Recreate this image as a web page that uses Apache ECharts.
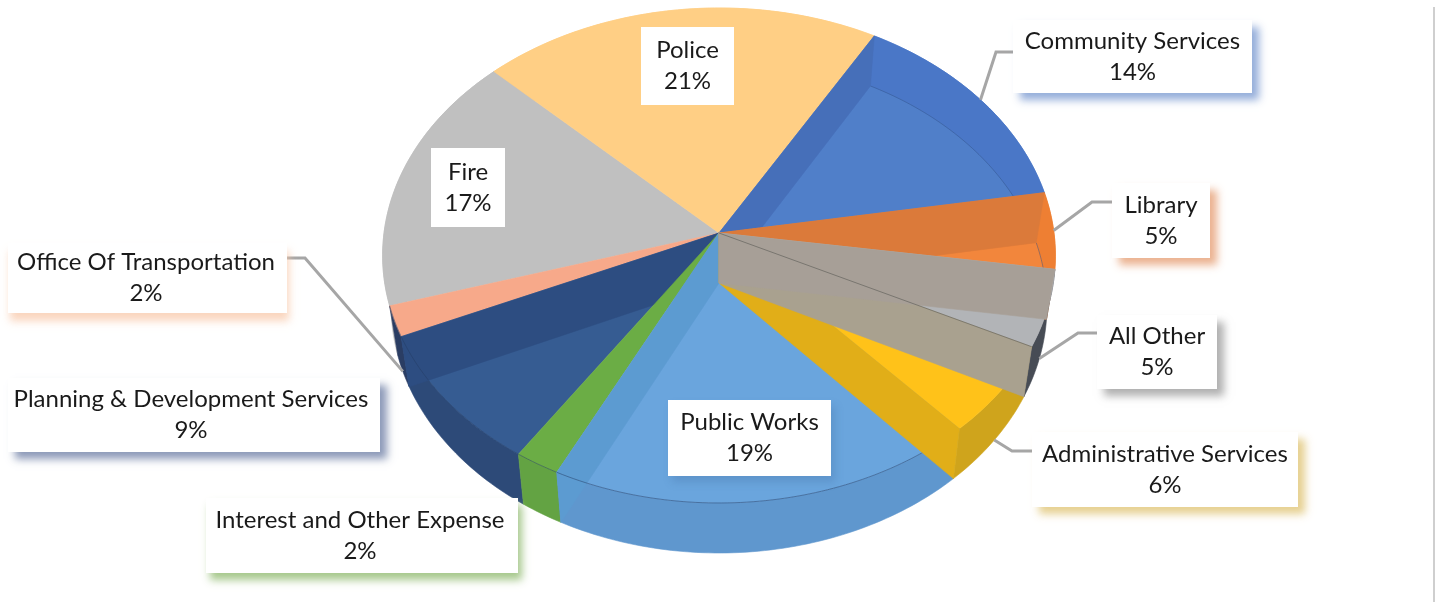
<!DOCTYPE html>
<html>
<head>
<meta charset="utf-8">
<style>html,body{margin:0;padding:0;background:#fff}#chart{width:1439px;height:602px}</style>
<script src="https://cdn.jsdelivr.net/npm/echarts@6/dist/echarts.min.js"></script>
</head>
<body>
<div id="chart"></div>
<script>
// Budget share by department, clockwise from Community Services.
const categories = ['Community Services', 'Library', 'All Other', 'Administrative Services', 'Public Works',
  'Interest and Other Expense', 'Planning & Development Services', 'Office Of Transportation', 'Fire', 'Police'];
const shares = [14, 5, 5, 6, 19, 2, 9, 2, 17, 21];

// Slices are painted back to front so the nearer cut faces overlap their neighbours.
const paintOrder = [8, 9, 7, 0, 1, 6, 5, 4, 3, 2];

const topColors = ['#4A77C7', '#EE7F33', '#B2B4B7', '#FFC219', '#6AA5DD', '#6BAD45', '#365C92', '#F7A98A', '#C0C0C0', '#FFCF85'];
const wallColors = ['#4A77C7', '#EE7F33', '#474C55', '#CFA41C', '#5F97CE', '#63A343', '#2D4A78', '#2A3D63', '#C0C0C0', '#FFCF85'];
const innerColors = ['#507FC9', '#F2863C', null, null, null, null, null, null, null, null];
const startCutColors = ['#466FB9', '#DB7A3A', '#A79F97', null, null, null, null, null, null, null];
const endCutColors = [null, null, '#A9A18F', '#E1AE18', '#5C9BD1', null, '#2D4D81', null, null, null];

const startAngle = 30;
const disc = { cx: 719, cy: 233, rx: 335, ry: 245.45, tilt: 0.0909, depth: 50, baseScale: 0.975 };

const labelBoxes = [
  { x: 1013, y: 20, w: 239, h: 73, shadow: 'rgba(130,160,212,0.85)', ox: 7, oy: 7 },
  { x: 1112, y: 183, w: 98, h: 75, shadow: 'rgba(232,165,125,0.85)', ox: 7, oy: 7 },
  { x: 1097, y: 315, w: 120, h: 74, shadow: 'rgba(150,150,150,0.75)', ox: 7, oy: 7 },
  { x: 1032, y: 432, w: 266, h: 75, shadow: 'rgba(226,200,125,0.85)', ox: 7, oy: 7 },
  { x: 668, y: 400, w: 163, h: 76, shadow: 'rgba(60,100,150,0.25)', ox: 4, oy: 6 },
  { x: 206, y: 498, w: 312, h: 75, shadow: 'rgba(150,190,120,0.85)', ox: 4, oy: 7, tx: 360 },
  { x: 8, y: 378, w: 372, h: 74, shadow: 'rgba(120,135,172,0.85)', ox: 7, oy: 7, tx: 191 },
  { x: 8, y: 243, w: 279, h: 70, shadow: 'rgba(248,200,170,0.75)', ox: 2, oy: 8, tx: 146 },
  { x: 431, y: 148, w: 74, h: 79, shadow: 'rgba(0,0,0,0)', ox: 0, oy: 0 },
  { x: 641, y: 27, w: 93, h: 78, shadow: 'rgba(0,0,0,0)', ox: 0, oy: 0 }
];

// Labels joined to their slice by a gray elbow.
const leaders = [
  { slice: 0, elbowX: 996, y: 52 }, { slice: 1, elbowX: 1092, y: 202 }, { slice: 2, elbowX: 1078, y: 333 },
  { slice: 3, elbowX: 1012, y: 451 }, { slice: 7, elbowX: 305, y: 258 }
];

// Cumulative clockwise angles (degrees from twelve o'clock), derived from the shares.
const total = shares.reduce((a, b) => a + b, 0);
const boundaries = [startAngle];
shares.forEach(function (v, i) { boundaries.push(boundaries[i] + v / total * 360); });

// Perspective projection of a disc point; level 0 is the top face, level 1 the base.
function rimPoint(deg, level) {
  const t = deg * Math.PI / 180;
  const c = Math.sin(t), s = -Math.cos(t);
  const d = 1 - disc.tilt * s;
  let x = disc.rx * c / d;
  let y = disc.ry * s / d;
  if (level === 1) { x *= disc.baseScale; y += disc.depth; }
  return [disc.cx + x, disc.cy + y];
}
function apex(level) { return [disc.cx, disc.cy + (level === 1 ? disc.depth : 0)]; }
function arc(a0, a1, level) {
  const n = Math.max(2, Math.ceil(Math.abs(a1 - a0)));
  const pts = [];
  for (let i = 0; i <= n; i++) pts.push(rimPoint(a0 + (a1 - a0) * i / n, level));
  return pts;
}
function poly(points, fill) {
  return {
    type: 'polygon', shape: { points: points },
    style: { fill: fill, stroke: fill, lineWidth: 0.6 }, silent: true
  };
}
function quad(angle, fill) {
  return poly([apex(0), rimPoint(angle, 0), rimPoint(angle, 1), apex(1)], fill);
}
function stroke(points, color, width) {
  return { type: 'polyline', shape: { points: points }, style: { fill: 'none', stroke: color, lineWidth: width }, silent: true };
}

function renderWall(params, api) {
  const i = api.value(0);
  const a0 = boundaries[i], a1 = boundaries[i + 1];
  return poly(arc(a0, a1, 0).concat(arc(a1, a0, 1)), wallColors[i]);
}

function renderSlice(params, api) {
  const i = api.value(0);
  const a0 = boundaries[i], a1 = boundaries[i + 1];
  const children = [poly([apex(0)].concat(arc(a0, a1, 0)), topColors[i])];
  if (innerColors[i]) {
    children.push(poly([apex(1)].concat(arc(a0, a1, 1)), innerColors[i]));
    children.push(stroke(arc(a0, a1, 1), 'rgba(45,75,130,0.45)', 1));
  }
  if (endCutColors[i]) children.push(quad(a1, endCutColors[i]));
  if (startCutColors[i]) children.push(quad(a0, startCutColors[i]));
  if (i === 2) children.push(stroke([apex(0), rimPoint(a1, 0)], 'rgba(90,90,85,0.6)', 1));
  // The near rim of the top face shows as a fine line across the wall.
  const mid = (a0 + a1) / 2;
  if (mid > 135 && mid < 250) children.push(stroke(arc(a0, a1, 0), 'rgba(35,60,100,0.5)', 1));
  return { type: 'group', children: children };
}

function renderLeader(params, api) {
  const leader = leaders[api.value(0)];
  const i = leader.slice;
  const box = labelBoxes[i];
  const mid = (boundaries[i] + boundaries[i + 1]) / 2;
  const onWall = -Math.cos(mid * Math.PI / 180) > 0.1;
  const end = rimPoint(mid, onWall ? 1 : 0);
  const from = [leader.elbowX < box.x ? box.x : box.x + box.w, leader.y];
  return {
    type: 'polyline', shape: { points: [from, [leader.elbowX, leader.y], end] },
    style: { fill: 'none', stroke: '#A6A6A6', lineWidth: 3 }, silent: true
  };
}

function renderLabel(params, api) {
  const i = api.value(0);
  const b = labelBoxes[i];
  return {
    type: 'group',
    children: [
      {
        type: 'rect', shape: { x: b.x, y: b.y, width: b.w, height: b.h },
        style: { fill: '#fff', shadowColor: b.shadow, shadowBlur: 8, shadowOffsetX: b.ox, shadowOffsetY: b.oy }, silent: true
      },
      {
        type: 'text', z2: 5,
        style: {
          x: b.tx || b.x + b.w / 2, y: b.y + b.h / 2,
          text: categories[i] + '\n' + api.value(1) + '%',
          fontFamily: 'Lato, "Open Sans", sans-serif', fontSize: 24, lineHeight: 31,
          align: 'center', verticalAlign: 'middle', fill: '#1a1a1a'
        }, silent: true
      }
    ]
  };
}

const sliceRows = paintOrder.map(function (i) { return [i, shares[i]]; });
const labelRows = shares.map(function (v, i) { return [i, v]; });
const leaderRows = leaders.map(function (l, i) { return [i]; });

const chart = echarts.init(document.getElementById('chart'), null, { renderer: 'canvas' });
chart.setOption({
  animation: false,
  backgroundColor: '#fff',
  graphic: [{
    type: 'line', shape: { x1: 1434, y1: 7, x2: 1434, y2: 602 },
    style: { stroke: '#CFCFCF', lineWidth: 2 }, silent: true
  }],
  series: [
    { type: 'custom', coordinateSystem: 'none', z: 1, data: sliceRows, renderItem: renderWall },
    { type: 'custom', coordinateSystem: 'none', z: 2, data: sliceRows, renderItem: renderSlice },
    { type: 'custom', coordinateSystem: 'none', z: 3, data: leaderRows, renderItem: renderLeader },
    { type: 'custom', coordinateSystem: 'none', z: 4, data: labelRows, renderItem: renderLabel }
  ]
});
</script>
</body>
</html>
